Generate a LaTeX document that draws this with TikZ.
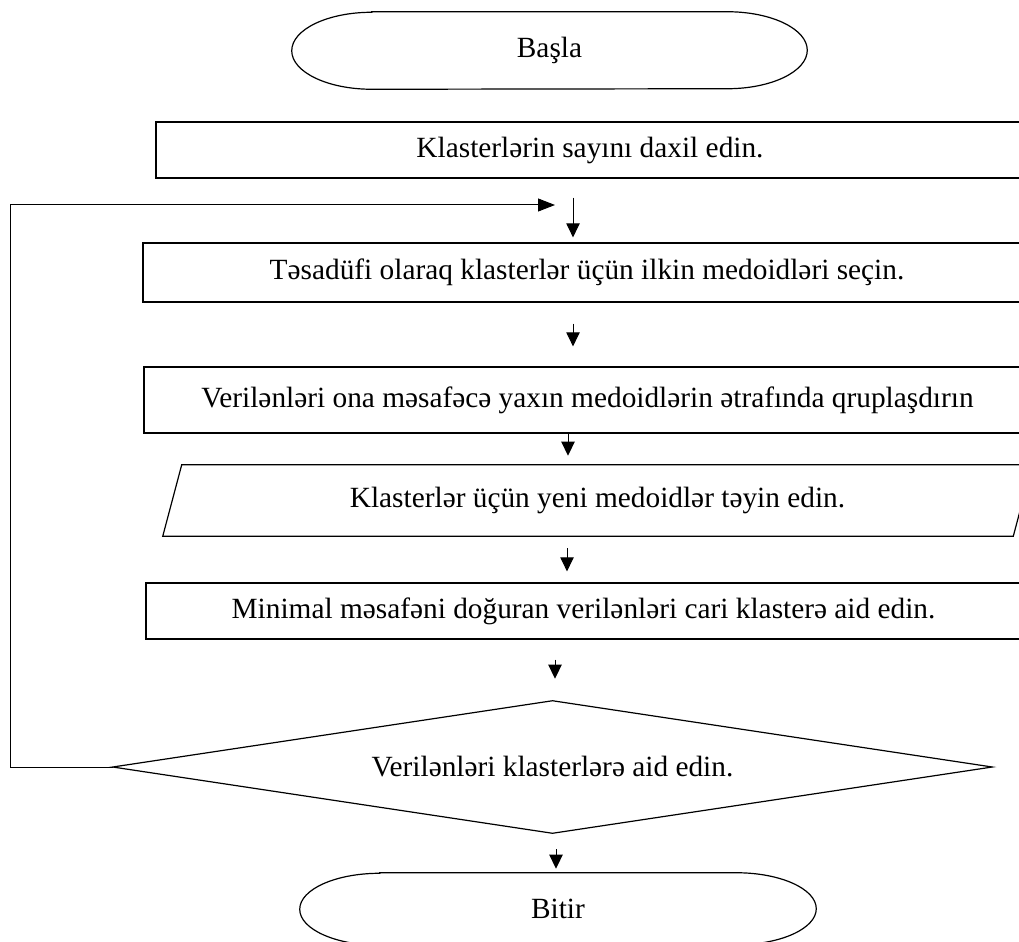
\documentclass[tikz,border=0pt]{standalone}
\usepackage{fontspec}
\setmainfont{Liberation Serif}
\usetikzlibrary{arrows.meta,calc}
\begin{document}
\begin{tikzpicture}[x=0.75pt,y=-0.75pt,
  shapeline/.style={draw=black, line width=0.9pt},
  txt/.style={font=\fontsize{22}{26}\selectfont, inner sep=0pt},
  boxnode/.style={txt, rectangle, draw=black, line width=0.9pt},
  plain/.style={txt, rectangle, draw=none},
  arr/.style={draw=black, line width=0.75pt, -{Triangle[length=10.5pt,width=10pt]}},
  looparr/.style={draw=black, line width=0.75pt, -{Triangle[length=12.75pt,width=9.75pt]}},
]
\useasboundingbox (0,0) rectangle (1019,941);
\clip (0,0) rectangle (1019,941);

% nodes
\node[plain, minimum width=386.25pt, minimum height=57.75pt] (start) at (549.5,50.5) {Başla};
\node[boxnode, minimum width=651pt, minimum height=42pt] (b1) at (590,150) {Klasterlərin sayını daxil edin.};
\node[boxnode, minimum width=666pt, minimum height=44.25pt] (b2) at (587,272.5) {Təsadüfi olaraq klasterlər üçün ilkin medoidləri seçin.};
\node[boxnode, minimum width=665.25pt, minimum height=49.5pt] (b3) at (587.5,400) {Verilənləri ona məsafəcə yaxın medoidlərin ətrafında qruplaşdırın};
\node[plain, minimum width=651.75pt, minimum height=53.25pt] (par) at (597.5,500.5) {Klasterlər üçün yeni medoidlər təyin edin.};
\node[boxnode, minimum width=656.25pt, minimum height=42pt] (b4) at (583.5,611) {Minimal məsafəni doğuran verilənləri cari klasterə aid edin.};
\node[plain, minimum width=659.25pt, minimum height=99pt] (dia) at (552.5,767) {Verilənləri klasterlərə aid edin.};
\node[plain, minimum width=387pt, minimum height=54pt] (stop) at (558,909) {Bitir};

% shapes
\draw[shapeline] ([xshift=60pt]start.north west) -- ([xshift=-60pt]start.north east)
  arc[start angle=90,end angle=-90,x radius=60pt,y radius=28.875pt]
  -- ([xshift=60pt]start.south west)
  arc[start angle=270,end angle=90,x radius=60pt,y radius=28.875pt] -- cycle;
\draw[shapeline] ([xshift=60pt]stop.north west) -- ([xshift=-60pt]stop.north east)
  arc[start angle=90,end angle=-90,x radius=60pt,y radius=27pt]
  -- ([xshift=60pt]stop.south west)
  arc[start angle=270,end angle=90,x radius=60pt,y radius=27pt] -- cycle;
\draw[shapeline] ([xshift=14.25pt]par.north west) -- (par.north east)
  -- ([xshift=-14.25pt]par.south east) -- (par.south west) -- cycle;
\draw[shapeline] (dia.west) -- (dia.north) -- (dia.east) -- (dia.south) -- cycle;

% arrow columns
\coordinate (cA) at (573,0);
\coordinate (cC) at (568,0);
\coordinate (cD) at (567,0);
\coordinate (cE) at (555,0);
\coordinate (cF) at (556,0);
\coordinate (loopend) at (555,205);

% connectors
\draw[arr, shorten <=14.25pt, shorten >=3.75pt] (b1.south -| cA) -- (b2.north -| cA);
\draw[arr, shorten <=15.75pt, shorten >=15pt] (b2.south -| cA) -- (b3.north -| cA);
\draw[arr, shorten >=6.75pt] (b3.south -| cC) -- (par.north -| cC);
\draw[arr, shorten <=9pt, shorten >=8.25pt] (par.south -| cD) -- (b4.north -| cD);
\draw[arr, shorten <=15pt, shorten >=16.5pt] (b4.south -| cE) -- (dia.north -| cE);
\draw[arr, shorten <=12pt, shorten >=3pt] (dia.south -| cF) -- (stop.north -| cF);
\draw[looparr] (dia.west) -- ++(-102,0) |- (loopend);
\end{tikzpicture}
\end{document}
